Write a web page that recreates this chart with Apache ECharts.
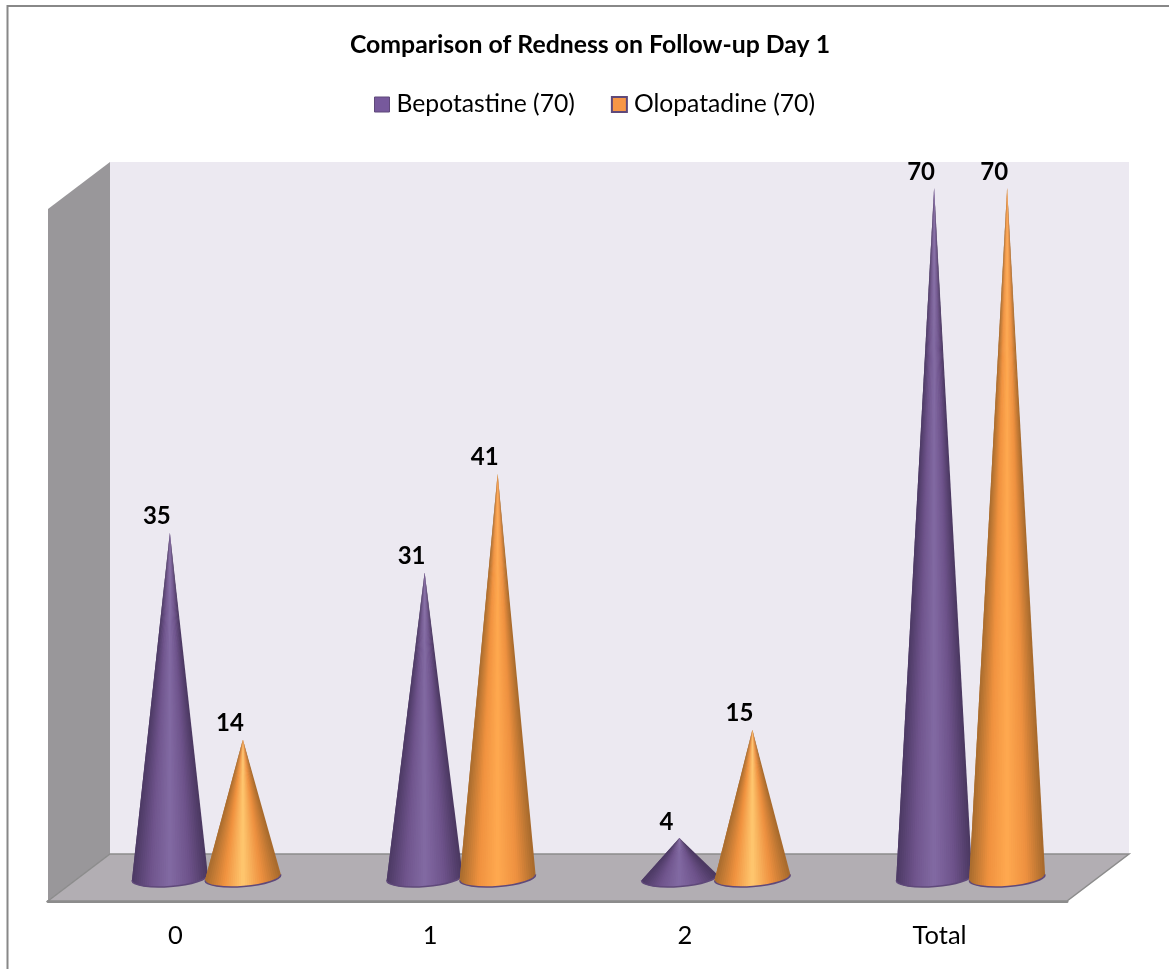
<!DOCTYPE html>
<html>
<head>
<meta charset="utf-8">
<title>Comparison of Redness on Follow-up Day 1</title>
<script src="https://cdn.jsdelivr.net/npm/echarts@6/dist/echarts.min.js"></script>
<style>
	html, body { margin: 0; padding: 0; background: #fff; }
	#container { width: 1169px; height: 969px; }
</style>
</head>
<body>
<div id="container"></div>
<script>
var categories = [ '0', '1', '2', 'Total' ];
var bepotastine = [ 35, 31, 4, 70 ];
var olopatadine = [ 14, 41, 15, 70 ];

// fake 3D box: how far the back wall sits behind the front of the floor
var DEPTH_X = 62, DEPTH_Y = 47;
var SLICES = 36;
var FONT = 'Lato, "Open Sans", sans-serif';

function purpleShades() {
	return [ '#4c3964', '#70558d', '#826aa3', '#6f548c', '#4a3760' ];
}
// the short orange cones have a much brighter stripe down the middle
function orangeShades(val) {
	return [ '#a86c2e', '#f0923f', val < 20 ? '#ffc870' : '#ffa950', '#ee9140', '#a5692c' ];
}

function renderBox(params) {
	var r = params.coordSys;
	var l = r.x, t = r.y, b = r.y + r.height, w = r.width;
	return {
		type : 'group',
		children : [ {
			type : 'polygon',
			shape : { points : [ [ l + DEPTH_X, t - DEPTH_Y ], [ l + w + DEPTH_X, t - DEPTH_Y ], [ l + w + DEPTH_X, b - DEPTH_Y ], [ l + DEPTH_X, b - DEPTH_Y ] ] },
			style : { fill : '#ece9f1' }
		}, {
			type : 'polygon',
			shape : { points : [ [ l, t ], [ l + DEPTH_X, t - DEPTH_Y ], [ l + DEPTH_X, b - DEPTH_Y ], [ l, b ] ] },
			style : { fill : '#99979a' }
		}, {
			type : 'polygon',
			shape : { points : [ [ l, b ], [ l + DEPTH_X, b - DEPTH_Y ], [ l + w + DEPTH_X, b - DEPTH_Y ], [ l + w, b ] ] },
			style : { fill : '#b2aeb3', stroke : '#8c8c8c', lineWidth : 1.5 }
		} ]
	};
}

// one cone, drawn as a fan of slices so the shading narrows towards the tip.
// each slice runs under the next two so no seams show between them.
// side is -1 for the left bar of a category, 1 for the right one
function coneRenderer(side, shades) {
	return function(params, api) {
		var idx = api.value(0), val = api.value(1);
		var band = api.size([ 1, 0 ])[0];
		var top = api.coord([ idx, val ]);
		var base = api.coord([ idx, 0 ]);
		var shift = side * band * 0.1433 + DEPTH_X / 2;
		var tipX = top[0] + shift, tipY = top[1] - DEPTH_Y / 2;
		var cx = base[0] + shift, cy = base[1] - DEPTH_Y / 2;
		var rx = band * 0.149, ry = 9, lean = 3;
		var colors = shades(val);
		var children = [];

		function rimPoint(u) {
			u = Math.max(u, -1);
			return [ cx + rx * u, cy - lean * u + ry * Math.sqrt(1 - u * u) ];
		}
		for (var i = 0; i < SLICES; i++) {
			var step = 2 / SLICES, u0 = 1 - i * step;
			var c = echarts.color.lerp(1 - (i + 0.5) / SLICES, colors);
			children.push({
				type : 'polygon',
				shape : { points : [ [ tipX, tipY ], rimPoint(u0), rimPoint(u0 - step), rimPoint(u0 - 2 * step) ] },
				style : { fill : c }
			});
		}
		var right = (cx + rx) + ' ' + (cy - lean);
		var left = (cx - rx) + ' ' + (cy + lean);
		children.push({
			type : 'path',
			shape : { pathData : 'M ' + right + ' A ' + rx + ' ' + ry + ' -4.5 0 1 ' + left },
			style : { fill : 'none', stroke : '#5f497a', lineWidth : 1.5 }
		});
		children.push({
			type : 'text',
			x : tipX - 13,
			y : tipY - 16,
			style : {
				text : String(val),
				fill : '#000',
				font : 'bold 24px ' + FONT,
				textAlign : 'center',
				textVerticalAlign : 'middle'
			}
		});
		return { type : 'group', children : children };
	};
}

var dom = document.getElementById("container");
var myChart = echarts.init(dom);
var option = {
	animation : false,
	title : {
		text : 'Comparison of Redness on Follow-up Day 1',
		left : 585,
		top : 28,
		textAlign : 'center',
		textStyle : { color : '#000', fontFamily : FONT, fontWeight : 'bold', fontSize : 24.8 }
	},
	legend : {
		top : 87,
		left : 369,
		itemWidth : 15,
		itemHeight : 15,
		itemGap : 36,
		textStyle : { color : '#000', fontFamily : FONT, fontSize : 24.7, padding : [ 0, 0, 0, 2 ] },
		data : [ {
			name : 'Bepotastine (70)',
			icon : 'rect',
			itemStyle : { color : '#77599c', borderColor : '#5f497a', borderWidth : 1 }
		}, {
			name : 'Olopatadine (70)',
			icon : 'rect',
			itemStyle : { color : '#f79646', borderColor : '#5f497a', borderWidth : 2 }
		} ]
	},
	grid : { left : 48, top : 209, width : 1019, height : 692 },
	xAxis : {
		type : 'category',
		data : categories,
		axisTick : { show : false },
		axisLine : { lineStyle : { color : '#8c8c8c', width : 3 } },
		axisLabel : { color : '#000', fontFamily : FONT, fontSize : 25.5, margin : 22 }
	},
	yAxis : {
		type : 'value',
		min : 0,
		max : 70.25,
		show : false,
		splitLine : { show : false }
	},
	// only the top and left edges of the chart frame fall inside the picture
	graphic : [ {
		type : 'polyline',
		shape : { points : [ [ 7.5, 969 ], [ 7.5, 6 ], [ 1169, 6 ] ] },
		style : { fill : 'none', stroke : '#888', lineWidth : 2 },
		silent : true
	} ],
	series : [ {
		name : 'box',
		type : 'custom',
		silent : true,
		z : 1,
		data : [ [ 0 ] ],
		renderItem : renderBox
	}, {
		name : 'Bepotastine (70)',
		type : 'custom',
		z : 2,
		itemStyle : { color : '#77599c' },
		encode : { x : 0, y : 1 },
		data : bepotastine.map(function(v, i) { return [ i, v ]; }),
		renderItem : coneRenderer(-1, purpleShades)
	}, {
		name : 'Olopatadine (70)',
		type : 'custom',
		z : 3,
		itemStyle : { color : '#f79646' },
		encode : { x : 0, y : 1 },
		data : olopatadine.map(function(v, i) { return [ i, v ]; }),
		renderItem : coneRenderer(1, orangeShades)
	} ]
};
myChart.setOption(option, true);
</script>
</body>
</html>
